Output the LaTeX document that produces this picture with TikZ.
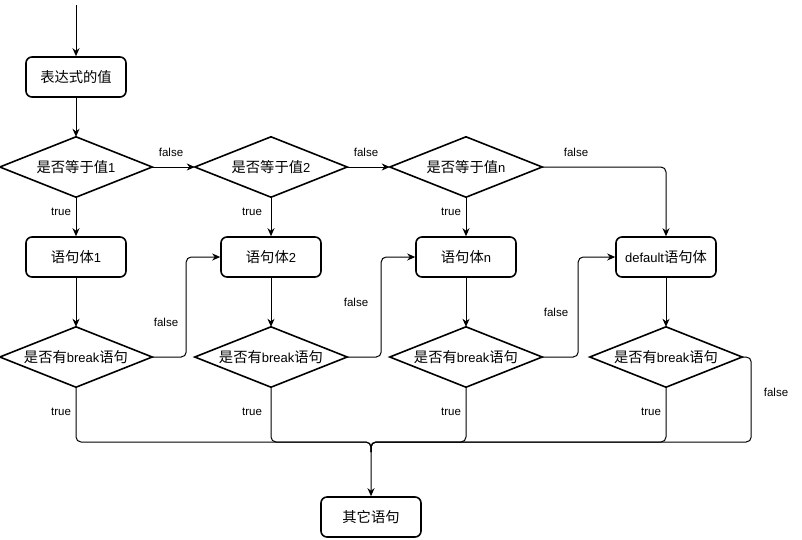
\documentclass[tikz,border=0pt]{standalone}
\usepackage{fontspec}
\setmainfont{Liberation Sans}
\newfontfamily\cjk[Scale=1.1]{Noto Sans CJK SC}
\usetikzlibrary{arrows.meta}
\begin{document}
\begin{tikzpicture}[x=1pt,y=-1pt,
 box/.style={draw, line width=1.6pt, rounded corners=6pt, minimum width=100pt, minimum height=40pt, inner sep=0pt, font=\fontsize{13}{15}\selectfont},
 dia/.style={minimum width=152pt, minimum height=60pt, inner sep=0pt, font=\fontsize{13}{15}\selectfont},
 dline/.style={line width=1.6pt, line join=miter},
 edge/.style={line width=1pt, rounded corners=5pt, -{Stealth[length=8pt,width=7pt,inset=2.5pt]}},
 mergeline/.style={line width=1pt, rounded corners=5pt},
 lbl/.style={font=\fontsize{11.5}{13}\selectfont, inner sep=0pt}
]
\useasboundingbox (0,0) rectangle (802,539);
% nodes
\node[box] (e) at (76,77) {\cjk 表达式的值};
\node[dia] (c1) at (76,167) {{\cjk 是否等于值}1};
\node[dia] (c2) at (271,167) {{\cjk 是否等于值}2};
\node[dia] (c3) at (466,167) {{\cjk 是否等于值}n};
\node[box] (b1) at (76,257) {{\cjk 语句体}1};
\node[box] (b2) at (271,257) {{\cjk 语句体}2};
\node[box] (b3) at (466,257) {{\cjk 语句体}n};
\node[box] (bd) at (666,257) {default{\cjk 语句体}};
\node[dia] (k1) at (76,357) {{\cjk 是否有}break{\cjk 语句}};
\node[dia] (k2) at (271,357) {{\cjk 是否有}break{\cjk 语句}};
\node[dia] (k3) at (466,357) {{\cjk 是否有}break{\cjk 语句}};
\node[dia] (k4) at (666,357) {{\cjk 是否有}break{\cjk 语句}};
\node[box] (o) at (371,517) {\cjk 其它语句};
\foreach \n in {c1,c2,c3,k1,k2,k3,k4}{
  \draw[dline] (\n.north) -- (\n.east) -- (\n.south) -- (\n.west) -- cycle;
}
\coordinate (top) at (76,5);
\coordinate (m) at (371,442);
\coordinate (mm) at (371,452);
% edges
\draw[edge] (top) -- (e.north);
\draw[edge] (e.south) -- (c1.north);
\draw[edge] (c1.east) -- (c2.west);
\draw[edge] (c2.east) -- (c3.west);
\draw[edge] (c3.east) -| (bd.north);
\draw[edge] (c1.south) -- (b1.north);
\draw[edge] (c2.south) -- (b2.north);
\draw[edge] (c3.south) -- (b3.north);
\draw[edge] (b1.south) -- (k1.north);
\draw[edge] (b2.south) -- (k2.north);
\draw[edge] (b3.south) -- (k3.north);
\draw[edge] (bd.south) -- (k4.north);
\draw[edge] (k1.east) -- ++(34,0) |- (b2.west);
\draw[edge] (k2.east) -- ++(34,0) |- (b3.west);
\draw[edge] (k3.east) -- ++(36,0) |- (bd.west);
\draw[edge] (k1.south) |- (m) -- (o.north);
\draw[mergeline] (k2.south) |- (m) -- (mm);
\draw[mergeline] (k3.south) |- (m) -- (mm);
\draw[mergeline] (k4.south) |- (m) -- (mm);
\draw[mergeline] (k4.east) -- ++(9,0) |- (m) -- (mm);
% labels
\node[lbl] (f1) at (171,152) {false};
\node[lbl] (f2) at (366,152) {false};
\node[lbl] (f3) at (576,152) {false};
\node[lbl] (f4) at (166,322) {false};
\node[lbl] (f5) at (356,302) {false};
\node[lbl] (f6) at (556,312) {false};
\node[lbl] (f7) at (776,392) {false};
\node[lbl] (t1) at (61,212) {true};
\node[lbl] (t2) at (252,212) {true};
\node[lbl] (t3) at (451,212) {true};
\node[lbl] (t4) at (61,412) {true};
\node[lbl] (t5) at (252,412) {true};
\node[lbl] (t6) at (451,412) {true};
\node[lbl] (t7) at (651,412) {true};
\end{tikzpicture}
\end{document}
